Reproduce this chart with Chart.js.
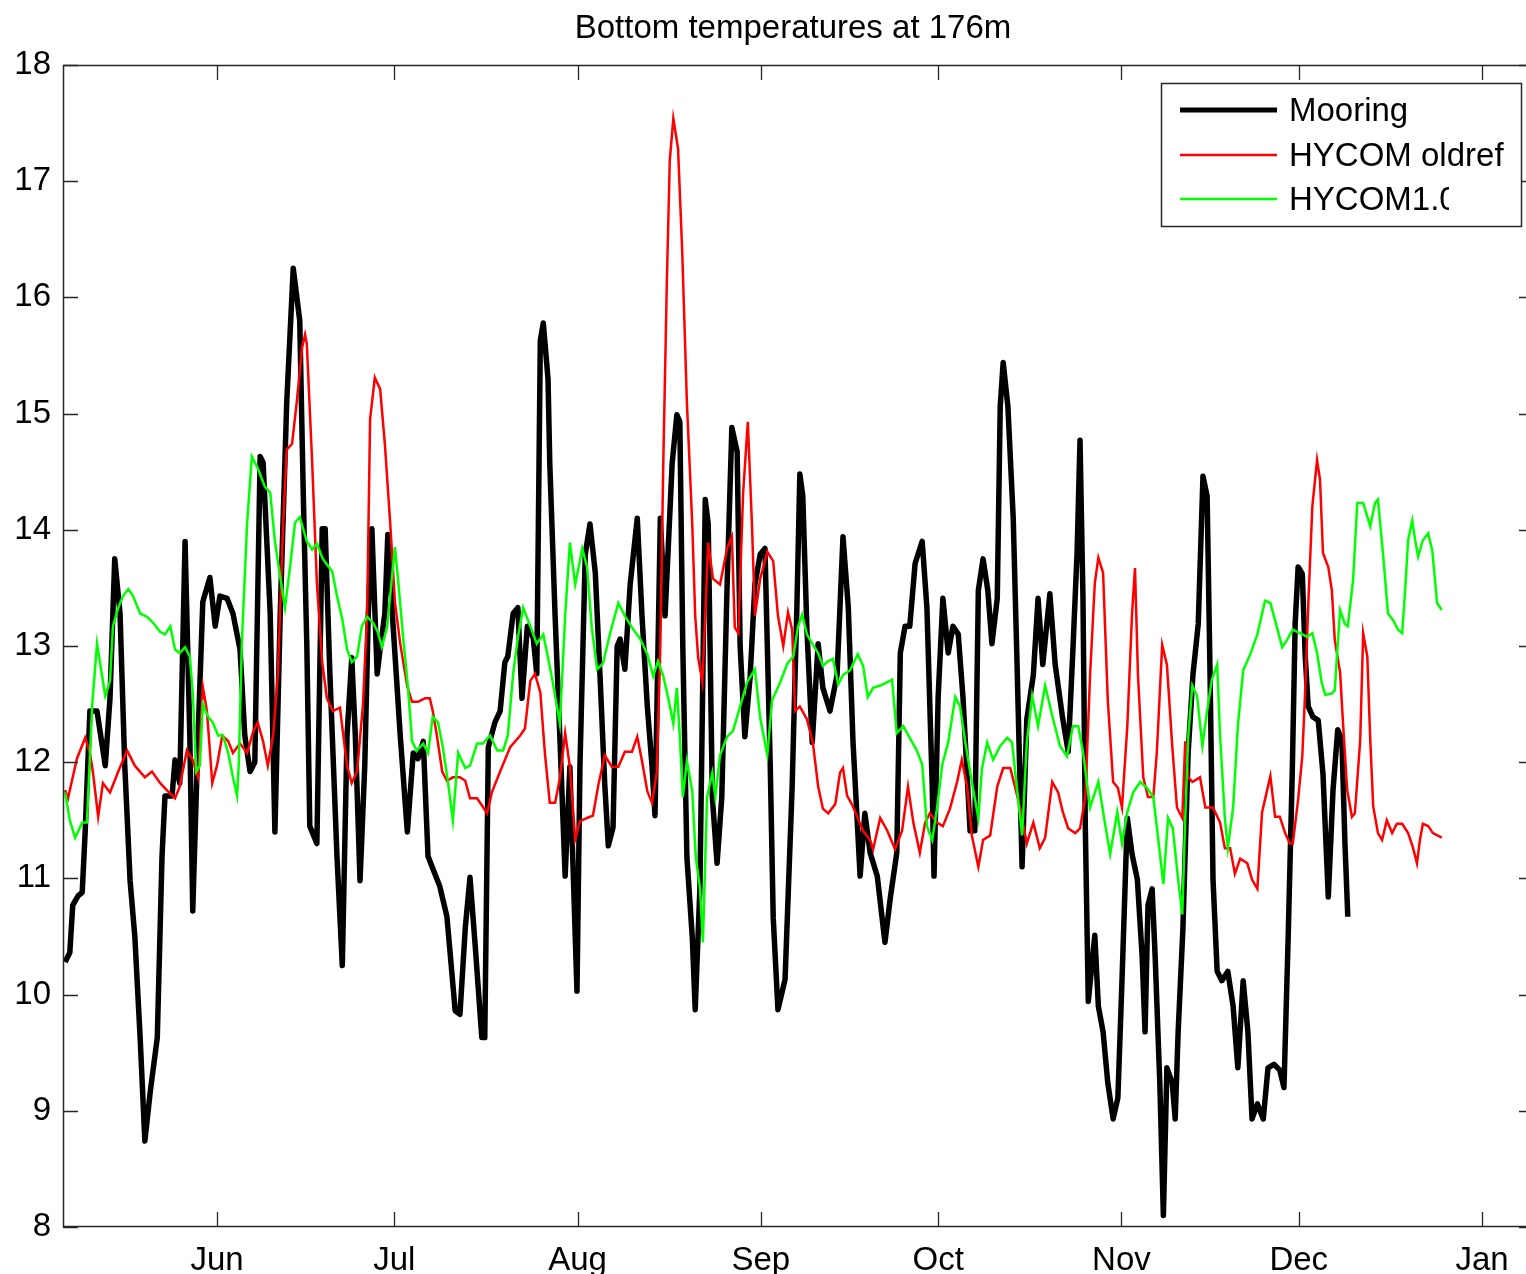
<!DOCTYPE html>
<html><head><meta charset="utf-8">
<script src="https://cdn.jsdelivr.net/npm/chart.js@4.4.1/dist/chart.umd.min.js"></script>
<style>html,body{margin:0;padding:0;background:#fff;overflow:hidden}canvas{display:block}</style>
</head><body>
<canvas id="c" width="1535" height="1274"></canvas>
<script>
const titleText = 'Bottom temperatures at 176m';
const monthTickDays = [152,182,213,244,274,305,335,366];
const monthTickLabels = ['Jun','Jul','Aug','Sep','Oct','Nov','Dec','Jan'];
const legendLabels = ['Mooring','HYCOM oldref','HYCOM1.0'];

const mooringDays = [126.3,127.1,127.6,128.5,129.2,129.7,130.5,131.7,133.1,133.9,134.7,135.6,136.4,137.3,138.1,139.0,139.8,140.7,141.9,142.7,143.2,144.4,144.9,145.7,146.6,147.4,147.9,148.8,149.6,150.8,151.7,152.5,153.7,154.7,155.9,156.7,157.6,158.4,159.3,159.8,161.0,161.8,162.7,163.8,164.9,166.0,166.6,167.2,167.7,168.9,169.8,170.3,171.1,172.3,173.2,174.0,174.8,175.4,176.2,177.0,177.6,178.2,179.1,179.6,180.4,180.9,181.8,183.0,184.2,185.2,186.0,186.9,187.7,189.7,190.9,192.3,193.1,194.0,194.8,195.7,196.8,197.3,197.9,199.0,199.9,200.7,201.2,202.1,202.9,203.6,204.5,205.5,206.1,206.7,207.2,208.0,208.3,209.2,210.0,210.9,211.7,212.9,213.4,214.3,215.1,216.0,216.8,217.6,218.2,219.0,219.7,220.2,221.0,221.9,223.1,223.9,224.8,225.6,226.1,227.0,227.8,229.0,229.8,230.3,230.8,231.5,232.4,232.9,233.7,234.6,235.1,235.8,236.6,237.4,238.3,239.1,240.0,240.5,241.3,242.2,243.0,243.9,244.7,245.6,246.1,246.9,248.1,249.3,250.1,250.6,251.1,251.8,252.7,253.7,254.5,255.7,256.9,257.9,258.8,259.6,260.8,261.6,262.5,263.7,265.0,265.9,267.0,267.6,268.4,269.2,270.1,271.3,272.1,273.0,273.3,274.0,274.8,275.7,276.5,277.4,278.2,279.4,280.2,280.8,281.6,282.4,283.1,284.0,284.5,285.0,285.8,286.7,287.3,288.2,289.0,290.1,290.9,291.7,292.9,293.8,295.0,296.0,296.8,297.5,298.0,298.5,298.9,299.4,300.5,301.1,301.9,302.7,303.6,304.4,305.1,306.0,306.8,307.7,308.5,309.0,309.5,310.2,310.7,311.5,312.1,312.7,313.6,314.1,314.6,315.4,316.3,317.1,318.0,318.8,319.5,320.0,320.5,321.2,322.0,323.0,323.9,324.7,325.6,326.4,327.1,328.0,329.0,329.8,330.8,331.8,332.5,333.2,333.9,334.4,334.9,335.6,336.1,336.6,337.4,338.3,339.1,340.0,340.8,341.6,342.3,342.8,343.3];
const mooringTemp = [10.28,10.36,10.77,10.85,10.88,11.4,12.44,12.44,11.97,12.55,13.75,13.28,11.97,10.98,10.5,9.63,8.74,9.16,9.63,11.19,11.71,11.71,12.02,11.82,13.9,12.23,10.72,12.23,13.38,13.59,13.17,13.43,13.41,13.28,12.97,12.23,11.92,12.0,14.63,14.58,13.28,11.4,13.28,15.1,16.25,15.8,14.3,13.0,11.45,11.3,14.01,14.01,12.76,11.19,10.25,12.23,12.9,12.23,10.98,11.97,13.28,14.01,12.76,12.97,13.28,13.96,13.17,12.23,11.4,12.08,12.03,12.18,11.19,10.93,10.67,9.86,9.83,10.57,11.01,10.41,9.63,9.63,12.13,12.34,12.44,12.86,12.91,13.28,13.33,12.55,13.17,13.07,12.76,15.63,15.78,15.3,14.57,13.26,12.22,11.02,11.96,10.03,11.96,13.79,14.05,13.63,12.74,11.81,11.28,11.44,13.0,13.06,12.8,13.53,14.1,13.26,12.48,11.96,11.54,14.1,13.26,14.57,14.99,14.93,13.0,11.18,10.5,9.87,10.92,14.26,14.05,11.7,11.13,11.7,13.53,14.88,14.67,13.0,12.22,12.74,13.53,13.79,13.84,11.96,10.66,9.87,10.13,11.79,13.33,14.48,14.29,13.14,12.17,13.02,12.64,12.44,12.75,13.94,13.33,12.17,11.02,11.56,11.22,11.02,10.45,10.83,11.22,12.94,13.17,13.17,13.71,13.9,13.33,11.79,11.02,12.56,13.41,12.94,13.17,13.1,12.56,11.41,11.41,13.48,13.75,13.48,13.02,13.41,15.06,15.44,15.06,14.1,12.94,11.1,12.37,12.75,13.41,12.84,13.45,12.84,12.4,12.09,12.97,13.8,14.77,13.41,11.43,9.94,10.51,9.9,9.68,9.24,8.93,9.11,10.12,11.52,11.21,10.99,10.34,9.68,10.77,10.91,10.34,9.24,8.1,9.37,9.24,8.93,9.68,10.56,12.09,12.75,13.19,14.46,14.29,12.75,10.99,10.2,10.12,10.2,9.9,9.37,10.12,9.68,8.93,9.06,8.93,9.37,9.4,9.35,9.2,10.47,11.9,13.2,13.68,13.62,12.91,12.48,12.39,12.36,11.9,10.84,11.76,12.28,12.19,11.33,10.67];

const oldrefDays = [126.3,126.8,128.3,129.7,130.5,131.0,131.9,132.7,133.9,135.3,136.8,138.1,139.8,141.0,142.4,143.5,144.9,145.7,146.9,147.8,148.8,149.6,150.3,151.2,152.0,152.9,153.9,154.7,155.9,157.1,158.1,158.9,159.8,160.6,161.5,162.3,163.2,163.8,164.7,165.5,166.4,166.9,167.2,168.1,168.9,169.8,170.6,171.6,172.8,174.0,174.8,175.7,176.7,177.4,177.9,178.7,179.6,180.4,181.3,182.1,183.0,184.2,185.0,186.0,187.2,188.0,188.5,189.2,190.1,190.9,191.9,193.1,194.0,194.8,196.0,196.8,197.7,198.5,199.9,201.6,203.3,204.1,205.0,205.8,206.7,207.5,208.3,209.2,210.0,210.9,211.7,212.6,213.4,214.6,215.6,216.5,217.6,218.8,219.9,221.0,222.2,223.1,223.9,224.8,225.6,226.4,227.0,227.5,228.1,228.6,229.2,230.0,230.7,231.5,232.4,232.9,233.4,234.1,234.6,235.1,235.9,237.1,238.3,239.1,239.6,240.2,241.0,241.8,242.5,243.0,243.9,245.1,246.1,246.9,247.8,248.6,249.3,249.8,250.6,251.8,252.8,253.7,254.5,255.4,256.6,257.4,257.9,258.6,259.4,260.4,261.3,262.5,263.0,264.2,265.4,266.7,267.9,268.9,269.8,270.9,271.8,272.6,273.8,274.8,276.0,277.2,278.0,278.9,279.7,280.8,281.6,282.8,284.0,285.0,286.2,287.0,287.9,289.0,290.1,291.2,292.1,293.3,294.3,295.1,296.0,297.2,298.0,298.9,299.7,300.5,301.1,301.9,302.7,303.6,304.4,305.1,306.0,306.8,307.3,307.8,308.7,309.5,310.4,311.0,311.9,312.7,313.6,314.4,315.3,315.8,316.3,317.0,318.3,319.2,320.5,321.7,322.5,323.4,324.2,325.1,326.3,327.1,328.0,328.8,329.3,330.2,331.0,331.8,332.7,333.5,334.0,334.9,335.6,336.1,336.6,337.3,338.1,338.6,339.1,340.0,340.6,341.1,342.0,342.5,343.2,344.0,344.5,345.4,345.9,346.6,347.1,347.6,348.4,349.1,349.9,350.8,351.6,352.5,353.5,354.3,355.0,355.5,356.0,356.9,357.7,359.2];
const oldrefTemp = [11.76,11.69,12.03,12.21,12.08,11.92,11.53,11.82,11.74,11.92,12.1,11.97,11.87,11.92,11.82,11.76,11.69,11.79,12.1,12.03,11.87,12.65,12.44,11.82,11.97,12.23,12.18,12.08,12.16,12.08,12.26,12.34,12.18,11.97,12.23,12.76,14.06,14.69,14.74,15.1,15.57,15.68,15.6,14.58,13.54,12.86,12.55,12.44,12.47,11.97,11.82,11.92,12.5,13.28,14.95,15.31,15.21,14.74,14.06,13.38,13.02,12.65,12.52,12.52,12.55,12.55,12.44,12.23,11.92,11.84,11.87,11.87,11.84,11.69,11.69,11.63,11.56,11.74,11.92,12.13,12.23,12.29,12.7,12.76,12.6,12.06,11.65,11.65,11.86,12.25,11.96,11.34,11.49,11.52,11.54,11.8,12.06,11.96,11.96,12.09,12.09,12.22,12.01,11.75,11.65,11.91,13.0,14.57,16.13,17.18,17.54,17.28,16.4,15.09,14.05,13.26,12.9,12.69,13.26,13.89,13.58,13.53,13.84,13.94,13.16,13.11,14.31,14.93,14.05,13.26,13.58,13.81,13.73,13.26,13.0,13.29,13.14,12.44,12.48,12.37,12.17,11.79,11.6,11.56,11.64,11.91,11.95,11.71,11.64,11.52,11.41,11.33,11.25,11.52,11.41,11.25,11.41,11.79,11.48,11.22,11.48,11.56,11.48,11.45,11.6,11.83,12.02,11.79,11.37,11.1,11.33,11.37,11.79,11.95,11.95,11.79,11.6,11.3,11.48,11.26,11.35,11.83,11.74,11.57,11.43,11.39,11.43,11.7,12.75,13.54,13.76,13.63,12.53,11.83,11.78,11.61,12.31,13.28,13.67,12.75,11.87,11.7,11.7,12.09,13.01,12.84,12.14,11.61,11.52,12.18,11.87,11.83,11.87,11.61,11.61,11.48,11.26,11.26,11.04,11.17,11.13,10.99,10.91,11.57,11.68,11.88,11.53,11.53,11.39,11.3,11.3,11.68,12.05,12.62,13.34,14.2,14.6,14.43,13.8,13.68,13.48,13.05,12.77,12.33,11.76,11.53,11.56,12.19,13.11,12.91,12.19,11.62,11.39,11.33,11.5,11.39,11.47,11.47,11.39,11.27,11.13,11.33,11.47,11.45,11.39,11.35];

const hycom10Days = [126.3,127.1,128.0,129.2,130.0,130.9,131.7,132.2,133.1,133.9,134.4,135.3,136.1,137.0,137.8,139.0,140.2,141.2,142.4,143.2,144.1,144.9,145.7,146.6,147.4,147.9,148.5,149.1,149.6,150.5,151.3,152.2,153.0,153.9,154.7,155.4,155.7,156.2,157.1,157.9,158.9,160.1,161.0,161.8,162.7,163.5,164.4,165.2,166.0,167.2,168.1,168.9,169.9,171.5,172.3,173.2,174.0,174.8,175.7,176.5,177.4,178.4,179.2,179.9,180.8,181.6,182.1,182.6,183.5,184.3,185.0,185.8,186.9,187.7,188.5,189.4,190.2,191.1,191.9,192.8,194.0,194.8,196.0,197.0,198.2,199.4,200.4,201.2,202.1,202.9,203.8,205.0,206.1,207.2,207.8,208.8,210.0,210.9,211.7,212.6,213.8,214.6,215.4,216.3,217.3,218.5,219.9,221.0,222.2,223.6,224.8,225.8,226.6,227.5,228.3,229.2,229.8,230.3,230.8,231.5,232.4,233.0,233.7,234.2,234.9,235.8,236.3,237.1,238.3,239.3,240.5,241.7,243.0,243.9,245.1,245.9,247.3,248.5,249.5,250.3,251.0,251.8,252.7,253.7,254.5,255.4,256.2,257.1,257.9,259.1,260.4,261.3,262.1,263.0,264.2,265.4,266.2,267.0,268.1,269.2,270.4,271.3,272.1,273.0,273.8,274.7,275.7,276.9,277.7,278.6,279.7,280.8,281.4,282.3,283.3,284.5,285.7,286.5,287.3,288.2,289.0,289.9,290.9,292.1,293.3,294.6,295.8,296.8,297.7,298.5,299.7,301.1,302.2,303.1,304.3,305.1,306.0,307.0,308.2,309.3,310.4,311.2,312.1,312.9,313.7,314.6,315.3,315.8,316.3,317.0,317.8,318.7,319.5,320.3,321.2,321.7,322.5,323.0,323.9,324.7,325.6,326.8,328.0,329.3,330.2,331.0,332.2,333.0,334.0,335.2,336.4,337.3,338.1,338.9,339.5,340.6,341.1,341.6,342.0,342.8,343.3,344.2,344.9,345.9,347.1,347.9,348.4,349.3,350.1,351.0,351.8,352.5,353.0,353.5,354.2,354.7,355.2,356.0,356.9,357.6,358.4,359.2];
const hycom10Temp = [11.74,11.5,11.35,11.48,11.48,12.5,13.02,12.86,12.57,12.7,13.17,13.33,13.43,13.49,13.43,13.28,13.25,13.2,13.12,13.1,13.17,12.97,12.94,12.99,12.91,12.6,11.92,11.97,12.5,12.39,12.34,12.23,12.23,12.08,11.87,11.71,12.0,13.02,14.06,14.63,14.53,14.37,14.32,13.9,13.59,13.33,13.7,14.06,14.11,13.9,13.83,13.88,13.75,13.64,13.43,13.23,12.97,12.86,12.91,13.17,13.25,13.2,13.12,12.99,13.17,13.59,13.85,13.59,13.07,12.65,12.18,12.1,12.16,12.08,12.39,12.34,12.13,11.82,11.5,12.08,11.95,11.97,12.16,12.16,12.23,12.1,12.1,12.23,12.76,13.07,13.33,13.17,13.02,13.1,12.95,12.69,12.33,13.26,13.89,13.53,13.84,13.68,13.16,12.8,12.85,13.11,13.37,13.26,13.16,13.06,12.93,12.74,12.87,12.74,12.56,12.33,12.64,12.22,11.7,12.01,11.75,11.18,10.92,10.45,11.7,11.91,11.7,12.06,12.22,12.27,12.48,12.69,12.8,12.38,12.06,12.53,12.69,12.85,12.91,13.17,13.27,13.1,13.02,12.94,12.83,12.87,12.89,12.67,12.75,12.79,12.93,12.83,12.56,12.64,12.66,12.69,12.71,12.25,12.31,12.21,12.1,11.98,11.45,11.33,11.6,11.98,12.17,12.56,12.48,12.17,11.83,11.52,11.94,12.17,12.02,12.14,12.21,12.17,11.79,11.37,12.17,12.57,12.31,12.66,12.4,12.14,12.05,12.31,12.31,12.09,11.61,11.83,11.48,11.21,11.57,11.3,11.57,11.74,11.83,11.78,11.7,11.35,10.95,11.52,11.43,10.99,10.69,11.52,12.22,12.66,12.57,12.14,12.44,12.71,12.84,12.22,11.52,11.26,11.61,12.31,12.79,12.93,13.1,13.39,13.37,13.22,12.99,13.05,13.14,13.11,13.08,13.11,12.94,12.68,12.58,12.59,12.62,13.02,13.31,13.19,13.17,13.57,14.23,14.23,14.03,14.23,14.26,13.77,13.28,13.22,13.14,13.11,13.48,13.91,14.08,13.91,13.77,13.91,13.97,13.82,13.37,13.31];

const FONT = '"Liberation Sans", Arial, Helvetica, sans-serif';
const FONT_SIZE = 33;
const toPts = (xs, ys) => xs.map((x, i) => ({x: x, y: ys[i]}));

const framePlugin = {
  id: 'frame',
  afterDatasetsDraw(chart) {
    const ctx = chart.ctx, a = chart.chartArea;
    const xs = chart.scales.x, ys = chart.scales.y;
    ctx.save();
    ctx.strokeStyle = '#262626';
    ctx.lineWidth = 1.5;
    ctx.strokeRect(a.left + 0.5, a.top + 0.5, a.right - a.left - 1, a.bottom - a.top - 1);
    ctx.lineWidth = 1.3;
    ctx.beginPath();
    monthTickDays.forEach(d => {
      const px = Math.round(xs.getPixelForValue(d)) + 0.5;
      ctx.moveTo(px, a.bottom); ctx.lineTo(px, a.bottom - 15);
      ctx.moveTo(px, a.top); ctx.lineTo(px, a.top + 15);
    });
    ys.ticks.forEach(t => {
      const py = Math.round(ys.getPixelForValue(t.value)) + 0.5;
      ctx.moveTo(a.left, py); ctx.lineTo(a.left + 15, py);
      ctx.moveTo(a.right, py); ctx.lineTo(a.right - 15, py);
    });
    ctx.stroke();
    ctx.restore();
  },
  afterDraw(chart) {
    const ctx = chart.ctx;
    ctx.save();
    ctx.fillStyle = '#000';
    ctx.font = FONT_SIZE + 'px ' + FONT;
    ctx.textAlign = 'center';
    ctx.textBaseline = 'middle';
    ctx.fillText(titleText, 793, 29);
    const bx = 1161, by = 83, bw = 360, bh = 143;
    ctx.fillStyle = '#fff';
    ctx.fillRect(bx, by, bw, bh);
    ctx.strokeStyle = '#262626';
    ctx.lineWidth = 1.5;
    ctx.strokeRect(bx + 0.5, by + 0.5, bw, bh);
    const rows = [110, 155, 199];
    const cols = ['#000000', '#ff0000', '#00ff00'];
    const widths = [5, 2.5, 2.5];
    const clipRight = [1515, 1515, 1449];
    rows.forEach((ry, i) => {
      ctx.strokeStyle = cols[i];
      ctx.lineWidth = widths[i];
      ctx.beginPath();
      ctx.moveTo(1180, ry); ctx.lineTo(1277, ry);
      ctx.stroke();
      ctx.save();
      ctx.beginPath();
      ctx.rect(1280, ry - 25, clipRight[i] - 1280, 50);
      ctx.clip();
      ctx.fillStyle = '#000';
      ctx.font = FONT_SIZE + 'px ' + FONT;
      ctx.textAlign = 'left';
      ctx.textBaseline = 'middle';
      ctx.fillText(legendLabels[i], 1289, ry + 2);
      ctx.restore();
    });
    ctx.restore();
  }
};

new Chart(document.getElementById('c'), {
  type: 'line',
  data: {
    datasets: [
      {label: legendLabels[2], data: toPts(hycom10Days, hycom10Temp), borderColor: '#00ff00', borderWidth: 2.5, pointRadius: 0, tension: 0, fill: false, order: 0},
      {label: legendLabels[1], data: toPts(oldrefDays, oldrefTemp), borderColor: '#ff0000', borderWidth: 2.5, pointRadius: 0, tension: 0, fill: false, order: 1},
      {label: legendLabels[0], data: toPts(mooringDays, mooringTemp), borderColor: '#000000', borderWidth: 5.5, pointRadius: 0, tension: 0, fill: false, borderJoinStyle: 'round', order: 2}
    ]
  },
  options: {
    responsive: false,
    animation: false,
    devicePixelRatio: 1,
    layout: {padding: {top: 65, right: 1, left: 0, bottom: 0}},
    plugins: {legend: {display: false}, title: {display: false}, tooltip: {enabled: false}},
    scales: {
      x: {
        type: 'linear', min: 125.95, max: 374.8,
        grid: {display: false}, border: {display: false},
        afterBuildTicks: s => { s.ticks = monthTickDays.map(v => ({value: v})); },
        afterFit: s => { s.height = 47; },
        ticks: {
          autoSkip: false, maxRotation: 0, padding: 6, color: '#000',
          font: {family: FONT, size: FONT_SIZE},
          callback: v => { const i = monthTickDays.indexOf(v); return i >= 0 ? monthTickLabels[i] : ''; }
        }
      },
      y: {
        min: 8, max: 18,
        grid: {display: false}, border: {display: false},
        afterFit: s => { s.width = 63; },
        ticks: {stepSize: 1, padding: 4, color: '#000', font: {family: FONT, size: FONT_SIZE}}
      }
    }
  },
  plugins: [framePlugin]
});
</script>
</body></html>
